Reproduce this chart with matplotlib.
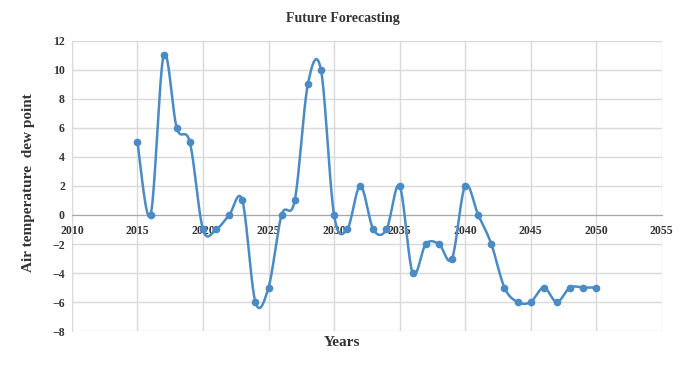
import matplotlib
matplotlib.use("Agg")
import matplotlib.pyplot as plt
import numpy as np


years = list(range(2015, 2051))
dew_point = [5, 0, 11, 6, 5, -1, -1, 0, 1, -6,
             -5, 0, 1, 9, 10, 0, -1, 2, -1, -1,
             2, -4, -2, -2, -3, 2, 0, -2, -5, -6,
             -6, -5, -6, -5, -5, -5]

x_ticks = list(range(2010, 2056, 5))
y_ticks = list(range(-8, 13, 2))

_LINE_COLOR = "#4a8bc6"
_GRID_COLOR = "#d9d9d9"
_FONT = "Liberation Serif"


def _smooth(xs, ys, steps=20):
    # Excel-style smoothed line: Catmull-Rom between the given points
    xs = np.asarray(xs, dtype=float)
    ys = np.asarray(ys, dtype=float)
    px = np.concatenate([[xs[0]], xs, [xs[-1]]])
    py = np.concatenate([[ys[0]], ys, [ys[-1]]])
    out_x, out_y = [], []
    t = np.linspace(0., 1., steps, endpoint=False)
    for i in range(1, len(px) - 2):
        for arr, out in ((px, out_x), (py, out_y)):
            p0, p1, p2, p3 = arr[i - 1], arr[i], arr[i + 1], arr[i + 2]
            c1 = p1 + (p2 - p0) / 6.
            c2 = p2 - (p3 - p1) / 6.
            out.extend((1 - t) ** 3 * p1 + 3 * (1 - t) ** 2 * t * c1
                       + 3 * (1 - t) * t ** 2 * c2 + t ** 3 * p2)
    out_x.append(xs[-1])
    out_y.append(ys[-1])
    return np.array(out_x), np.array(out_y)


fig = plt.figure(figsize=(6.85, 3.65), dpi=100)
ax = fig.add_axes([0.105, 0.093, 0.861, 0.795])

sx, sy = _smooth(years, dew_point)
ax.plot(sx, sy, color=_LINE_COLOR, linewidth=1.8, zorder=3)
ax.plot(years, dew_point, linestyle="none", marker="o", markersize=4.5,
        color=_LINE_COLOR, zorder=4)

ax.set_xlim(2010, 2055)
ax.set_ylim(-8, 12)
ax.set_xticks(x_ticks)
ax.set_yticks(y_ticks)
ax.grid(True, color=_GRID_COLOR, linewidth=1.0)
ax.set_axisbelow(True)

for side in ("top", "right"):
    ax.spines[side].set_visible(False)
ax.spines["left"].set_color(_GRID_COLOR)
ax.spines["bottom"].set_position(("data", 0))
ax.spines["bottom"].set_color("#a6a6a6")
ax.tick_params(axis="y", length=0, pad=5)
ax.tick_params(axis="x", length=0, pad=7)

for lbl in ax.get_xticklabels() + ax.get_yticklabels():
    lbl.set_fontfamily(_FONT)
    lbl.set_fontweight("bold")
    lbl.set_fontsize(8.5)
    lbl.set_color("#333333")

fig.text(0.5, 0.95, "Future Forecasting", ha="center", va="center",
         family=_FONT, fontweight="bold", fontsize=10, color="#333333")
fig.text(0.5, 0.062, "Years", ha="center", va="center",
         family=_FONT, fontweight="bold", fontsize=11, color="#333333")
fig.text(0.042, 0.5, "Air temperature  dew point", ha="center",
         va="center", rotation=90, family=_FONT, fontweight="bold",
         fontsize=11, color="#333333")

fig.savefig("out.png", dpi=100)
